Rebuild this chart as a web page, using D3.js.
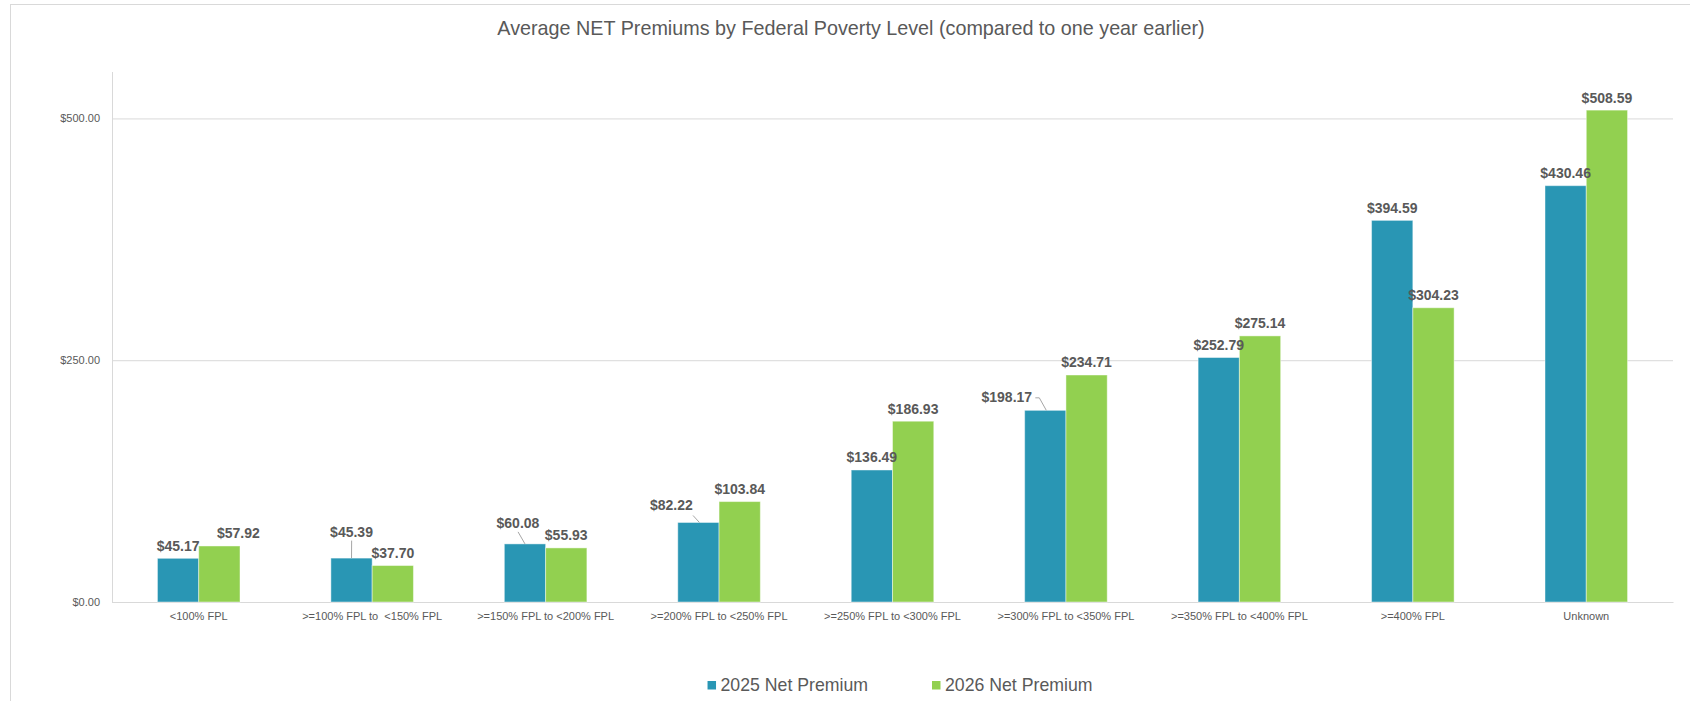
<!DOCTYPE html>
<html>
<head>
<meta charset="utf-8">
<script src="https://cdn.jsdelivr.net/npm/d3@7/dist/d3.min.js"></script>
<style>
  body { margin: 0; background: #fff; overflow: hidden; }
  text { font-family: 'Liberation Sans', Arial, sans-serif; }
</style>
</head>
<body>
<script>
/* Average NET Premiums by FPL */

// Chart data
const categories = [
  '<100% FPL',
  '>=100% FPL to  <150% FPL',
  '>=150% FPL to <200% FPL',
  '>=200% FPL to <250% FPL',
  '>=250% FPL to <300% FPL',
  '>=300% FPL to <350% FPL',
  '>=350% FPL to <400% FPL',
  '>=400% FPL',
  'Unknown',
];
const premiums2025 = [45.17, 45.39, 60.08, 82.22, 136.49, 198.17, 252.79, 394.59, 430.46];
const premiums2026 = [57.92, 37.7, 55.93, 103.84, 186.93, 234.71, 275.14, 304.23, 508.59];
const seriesNames = ['2025 Net Premium', '2026 Net Premium'];
const seriesColors = ['#2996b4', '#92d050'];
const yTicks = [0, 250, 500];

// Labels that were dragged off their bar in the original (series, category, dx, dy, leader)
const labelNudges = [
  { s: 1, i: 0, dx: 19, dy: 0, leader: null },
  { s: 0, i: 1, dx: 0, dy: -14, leader: 'bottom' },
  { s: 0, i: 2, dx: -7, dy: -8.5, leader: 'bottom' },
  { s: 0, i: 3, dx: -27, dy: -4.5, leader: 'corner' },
  { s: 0, i: 5, dx: -38.5, dy: -1, leader: 'side' },
];

const width = 1690;
const height = 701;
const margin = { top: 72, right: 17, bottom: 99, left: 112 };

const svg = d3
  .select('body')
  .append('svg')
  .attr('width', width)
  .attr('height', height);

// Outer chart frame (runs past the right and bottom edges)
svg
  .append('rect')
  .attr('x', 10.5)
  .attr('y', 4.5)
  .attr('width', width)
  .attr('height', height)
  .attr('fill', '#fff')
  .attr('stroke', '#d9d9d9');

// Title
svg
  .append('text')
  .attr('x', 851)
  .attr('y', 35)
  .attr('text-anchor', 'middle')
  .attr('font-size', '19.75px')
  .attr('fill', '#595959')
  .text('Average NET Premiums by Federal Poverty Level (compared to one year earlier)');

// Scales
const x0 = d3
  .scaleBand()
  .domain(categories)
  .range([margin.left, width - margin.right])
  .paddingInner(0.524)
  .paddingOuter(0.262);

const x1 = d3.scaleBand().domain([0, 1]).range([0, x0.bandwidth()]);

const y = d3
  .scaleLinear()
  .domain([0, 548])
  .range([height - margin.bottom, margin.top]);

// Y axis with gridlines
const yAxis = svg
  .append('g')
  .attr('transform', `translate(${margin.left},0)`)
  .call(
    d3
      .axisLeft(y)
      .tickValues(yTicks)
      .tickFormat(d3.format('$,.2f'))
      .tickSize(-(width - margin.left - margin.right))
      .tickPadding(12)
  );
yAxis.select('.domain').remove();
yAxis.selectAll('line').attr('stroke', '#d9d9d9');
yAxis
  .selectAll('text')
  .attr('font-size', '11px')
  .attr('fill', '#595959')
  .attr('font-family', "'Liberation Sans', Arial, sans-serif");

// vertical axis line
svg
  .append('line')
  .attr('x1', margin.left + 0.5)
  .attr('x2', margin.left + 0.5)
  .attr('y1', margin.top)
  .attr('y2', y(0))
  .attr('stroke', '#d9d9d9');

// X axis
const xAxis = svg
  .append('g')
  .attr('transform', `translate(0,${y(0)})`)
  .call(d3.axisBottom(x0).tickSize(0).tickPadding(10));
xAxis.select('.domain').attr('stroke', '#d9d9d9');
xAxis
  .selectAll('text')
  .attr('font-size', '11px')
  .attr('fill', '#595959')
  .attr('font-family', "'Liberation Sans', Arial, sans-serif")
  .style('white-space', 'pre');

// Bars
const series = [premiums2025, premiums2026];
const barData = [];
series.forEach((values, s) => {
  values.forEach((v, i) => barData.push({ s: s, i: i, value: v }));
});

svg
  .append('g')
  .selectAll('rect')
  .data(barData)
  .enter()
  .append('rect')
  .attr('x', (d) => x0(categories[d.i]) + x1(d.s))
  .attr('y', (d) => y(d.value))
  .attr('width', x1.bandwidth())
  .attr('height', (d) => y(0) - y(d.value))
  .attr('fill', (d) => seriesColors[d.s])
  .attr('stroke', 'rgba(255,255,255,0.45)')
  .attr('stroke-width', 1);

// Data labels
const labels = svg
  .append('g')
  .selectAll('text')
  .data(barData)
  .enter()
  .append('text')
  .attr('x', (d) => {
    const n = labelNudges.find((t) => t.s === d.s && t.i === d.i);
    return x0(categories[d.i]) + x1(d.s) + x1.bandwidth() / 2 + (n ? n.dx : 0);
  })
  .attr('y', (d) => {
    const n = labelNudges.find((t) => t.s === d.s && t.i === d.i);
    return y(d.value) - 7.5 + (n ? n.dy : 0);
  })
  .attr('text-anchor', 'middle')
  .attr('font-size', '14px')
  .attr('font-weight', 'bold')
  .attr('fill', '#595959')
  .text((d) => d3.format('$,.2f')(d.value));

// Leader lines for the moved labels
labels.each(function (d) {
  const n = labelNudges.find((t) => t.s === d.s && t.i === d.i);
  if (!n || !n.leader) return;
  const box = this.getBBox();
  const bx = x0(categories[d.i]) + x1(d.s) + x1.bandwidth() / 2;
  const by = y(d.value);
  let pts;
  if (n.leader === 'bottom') {
    pts = [[box.x + box.width / 2, box.y + box.height + 1], [bx, by]];
  } else if (n.leader === 'corner') {
    pts = [[box.x + box.width, box.y + box.height + 2], [bx + 1, by]];
  } else {
    const my = box.y + box.height / 2 + 1;
    pts = [[box.x + box.width + 3, my], [box.x + box.width + 7, my], [bx + 1, by]];
  }
  svg
    .append('path')
    .attr('d', d3.line()(pts))
    .attr('fill', 'none')
    .attr('stroke', '#a6a6a6')
    .attr('stroke-width', 1);
});

// Legend
const legend = svg.append('g').attr('class', 'legend');
const items = legend
  .selectAll('g')
  .data(seriesNames)
  .enter()
  .append('g');

items
  .append('rect')
  .attr('width', 8.5)
  .attr('height', 8.5)
  .attr('y', 681)
  .attr('fill', (d, i) => seriesColors[i]);

items
  .append('text')
  .attr('x', 13)
  .attr('y', 691)
  .attr('font-size', '17.7px')
  .attr('fill', '#595959')
  .text((d) => d);

// lay out legend items side by side, centred under the plot
let offset = 0;
const gap = 64;
const widths = [];
items.each(function () {
  widths.push(this.getBBox().width);
});
const total = d3.sum(widths) + gap * (widths.length - 1);
const start = 900 - total / 2;
items.attr('transform', (d, i) => {
  const t = `translate(${start + offset},0)`;
  offset += widths[i] + gap;
  return t;
});
</script>
</body>
</html>
